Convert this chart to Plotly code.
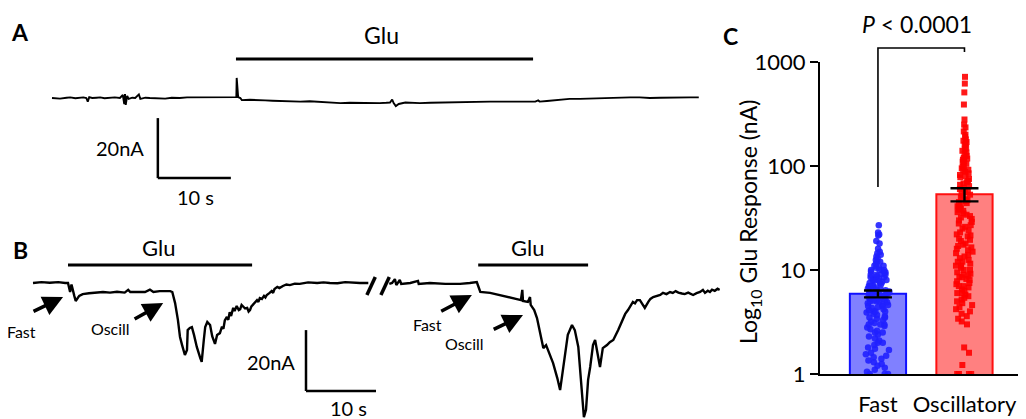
import plotly.graph_objects as go

# ---------------- Panel A : amperometric trace (time s, current nA) ----------------
a_time = [0, 1.1, 2.0, 2.5, 3.2, 3.8, 4.3, 4.7, 4.9, 5.1, 5.5, 6.1, 6.6, 7.2, 7.9, 8.6, 9.3, 9.7, 9.9, 10.0,
          10.1, 10.3, 10.5, 11.0, 11.4, 11.9, 12.1, 12.8, 13.4, 14.3, 15.5, 16.4, 17.5, 18.5, 19.6, 20.6,
          21.6, 22.6, 23.7, 24.5, 25.1, 25.25, 25.3, 25.4, 25.5, 25.8, 26.0, 27.1, 28.2, 29.2, 30.2, 31.2,
          32.6, 34.0, 35.3, 36.7, 38.1, 39.5, 40.8, 42.2, 43.5, 44.9, 45.8, 46.3, 46.6, 46.8, 47.1, 47.5,
          48.4, 49.4, 50.4, 51.8, 53.2, 54.5, 55.9, 57.2, 58.6, 60.0, 61.4, 62.7, 64.1, 65.2, 66.2, 66.6,
          66.8, 67.8, 68.9, 69.9, 70.9, 72.3, 73.7, 75.0, 76.4, 77.8, 79.2, 80.5, 81.9, 83.3, 84.7, 86.0,
          87.4, 88.6]
a_curr = [0.0, -0.2, 0.1, 0.2, -0.1, 0.0, 0.2, 0.0, -1.2, 0.3, 0.0, 0.1, 0.2, -0.1, 0.0, 0.2, 0.0, 1.0, -2.0, 1.3,
          -2.3, 0.7, -0.3, 0.1, 0.0, 1.2, -0.3, 0.1, 0.0, -0.1, -0.2, 0.1, 0.0, 0.2, 0.2, 0.1,
          0.3, 0.1, 0.2, 0.2, 0.3, 0.3, 6.7, 0.3, 0.3, 0.0, -0.7, -0.6, -0.8, -0.8, -0.9, -1.0,
          -1.0, -1.2, -1.1, -1.3, -1.4, -1.7, -1.6, -1.7, -1.8, -1.7, -1.6, -1.5, -0.5, -1.7, -2.7, -2.0,
          -1.5, -1.7, -1.7, -1.6, -1.5, -1.4, -1.3, -1.4, -1.3, -1.2, -1.2, -1.3, -1.2, -1.2, -1.2, -0.8,
          -1.2, -1.0, -0.7, -0.5, -0.3, -0.3, -0.2, 0.0, 0.2, 0.1, 0.2, 0.2, 0.0, 0.1, 0.2, 0.1,
          0.2, 0.2]
glu_A = [25.2, 65.9]

# ---------------- Panel B : trace with break ----------------
b1_time = [0, 1.2, 2.4, 3.6, 4.6, 5.0, 5.3, 5.5, 5.9, 6.1, 6.6, 7.1, 8.0, 8.9, 10.0, 11.0, 12.0, 13.1, 13.6, 13.9,
           15.0, 16.0, 16.7, 17.2, 18.1, 19.0, 19.6, 19.9, 20.3, 20.7, 21.0, 21.3, 21.7, 22.0, 22.1, 22.4,
           22.7, 23.0, 23.4, 23.9, 24.1, 24.4, 24.6, 24.9, 25.3, 25.6, 26.0, 26.3,
           26.7, 27.0, 27.2, 27.4, 27.7, 27.9, 28.1, 28.3, 28.6, 28.8, 29.1, 29.4, 29.6, 29.8, 30.0, 30.3,
           30.6, 30.8, 31.0, 31.2, 31.4, 31.7, 32.0, 32.2, 32.4, 32.7, 33.0, 33.2, 33.4, 33.8, 34.1, 34.3,
           34.5, 34.9, 35.2, 35.7, 36.2, 36.7, 37.4, 38.1, 39.3, 40.6, 41.5, 42.4, 43.5, 44.6, 45.6, 46.7, 47.9]
b1_curr = [0, 0.3, 0.1, 0.3, 0, 0, -3.0, -0.5, -4.3, -6.0, -4.3, -3.7, -3.4, -3.3, -3.0, -3.2, -2.9, -3.2, -2.3, -3.0,
           -2.9, -3.0, -2.2, -3.0, -2.7, -2.6, -2.7, -3.0, -6.7, -12.3, -18.0, -20.7, -24.0, -22.3, -15.7, -15.0,
           -14.7, -17.3, -21.3, -25.0, -26.3, -19.0, -14.7, -13.0, -14.0, -17.7, -20.3, -17.3,
           -16.7, -14.5, -15.3, -12.5, -11.3, -12.3, -9.7, -11.0, -8.3, -9.3, -7.7, -9.0, -8.7, -7.3, -7.7, -8.5,
           -8.3, -9.5, -9.0, -7.8, -7.3, -6.3, -5.7, -6.3, -5.0, -5.3, -4.3, -4.8, -4.0, -3.3, -2.7, -3.3,
           -2.0, -1.3, -1.7, -1.0, -0.5, -0.7, -0.2, -0.3, 0.2, 0.0, 0.2, 0.0, -0.1, 0.3, 0.1, 0.0, 0.0]
b2_time = [50.9, 51.3, 51.7, 51.9, 52.4, 52.6, 53.9, 55.0, 55.1, 56.7, 58.9, 61.0, 62.4, 63.4, 63.6, 63.9, 65.3,
           66.7, 68.1, 69.3, 69.7, 69.9, 70.0, 70.7, 71.0, 71.1, 71.6, 72.0, 72.4, 72.9, 73.3, 73.7, 74.3, 74.9,
           75.3, 75.6, 76.0, 76.4, 77.0, 77.4, 77.9, 78.3, 78.7, 79.0, 79.3, 79.6, 80.0, 80.3, 80.7, 81.0,
           81.4, 82.0, 82.4, 82.9, 83.6,
           84.3, 84.6, 85.0, 85.3, 85.7, 86.0, 86.3, 86.7, 87.1, 87.4, 87.9, 88.2, 88.6, 89.1, 89.6, 90.0,
           90.5, 91.0, 91.4, 91.8, 92.2, 92.7, 93.1, 93.6, 94.3, 94.8, 95.3, 95.7, 96.0, 96.4, 96.7, 97.0,
           97.4, 97.8, 98.1]
b2_curr = [-0.3, 0, 1.3, -0.7, 1.0, -0.3, 0, 0.7, -0.3, 0, -0.3, -0.3, 0, 0.3, -1.0, -3.0, -3.3,
           -4.0, -4.7, -5.3, -5.7, -2.3, -6.0, -6.3, -4.7, -7.3, -9.0, -11.7, -15.7, -21.7, -20.7, -23.0, -26.7, -31.7,
           -35.7, -30.7, -23.3, -17.3, -14.0, -15.7, -21.3, -32.3, -44.7, -42.3, -32.3, -28.0, -20.7, -19.0, -24.0, -28.0,
           -21.7, -20.7, -19.7, -19.0, -15.7,
           -12.3, -10.3, -9.0, -8.0, -6.3, -6.8, -5.7, -5.7, -7.3, -8.3, -6.3, -5.3, -4.7, -4.3, -4.0, -3.3,
           -3.7, -3.0, -3.3, -2.7, -3.2, -3.5, -3.7, -3.2, -4.0, -3.4, -3.0, -2.3, -3.3, -2.6, -3.0, -2.2,
           -2.6, -1.9, -2.3]
glu_B1 = [5.0, 31.3]
glu_B2 = [63.6, 79.3]
assert len(b1_time) == len(b1_curr) and len(b2_time) == len(b2_curr) and len(a_time) == len(a_curr)

# ---------------- Panel C : Glu responses ----------------
categories = ["Fast", "Oscillatory"]
means = [5.9, 53.4]
sems = [0.45, 7.7]
fast_vals = [27, 23, 22, 21.5, 19, 18, 16, 15, 14.5, 14, 13.5, 13, 12.5, 12, 12, 11.5, 11, 11, 10.5, 10.5,
             10, 10, 10, 9.7, 9.5, 9.5, 9.2, 9, 9, 9, 8.7, 8.5, 8.5, 8.3, 8.2, 8, 8, 8, 7.8, 7.7,
             7.5, 7.5, 7.3, 7.2, 7, 7, 7, 6.9, 6.8, 6.6, 6.5, 6.5, 6.4, 6.3, 6.2, 6.1, 6, 6, 6, 5.9,
             5.8, 5.7, 5.6, 5.5, 5.5, 5.4, 5.3, 5.2, 5.1, 5, 5, 5, 4.9, 4.8, 4.7, 4.6, 4.5, 4.5, 4.4, 4.3,
             4.2, 4.1, 4, 4, 4, 3.9, 3.8, 3.7, 3.6, 3.5, 3.5, 3.4, 3.3, 3.2, 3.1, 3, 3, 3, 2.9, 2.8,
             2.7, 2.6, 2.5, 2.5, 2.4, 2.3, 2.2, 2.1, 2, 2, 1.9, 1.8, 1.75, 1.7, 1.6, 1.55, 1.5, 1.45, 1.4, 1.35,
             1.3, 1.25, 1.2, 1.15, 1.1, 1.05, 1.0, 1.0, 1.0]
osc_vals = [720, 620, 510, 390, 280, 250, 235, 215, 200, 190, 180, 175, 170, 165, 160, 150, 145, 140, 135, 130,
            125, 120, 118, 115, 112, 110, 105, 100, 98, 95, 92, 90, 88, 85, 82, 80, 78, 75, 72, 70,
            68, 66, 64, 62, 60, 58, 56, 55, 53, 52, 50, 48, 47, 46, 45, 44, 42, 41, 40, 39,
            38, 37, 36, 35, 34, 33, 32, 31, 30, 29, 28, 27, 26, 25, 24, 23, 22, 21.5, 21, 20,
            19.5, 19, 18, 17.5, 17, 16.5, 16, 15.5, 15, 14.5, 14, 13.5, 13, 12.5, 12, 12, 11.5, 11, 11, 10.5,
            10, 10, 9.5, 9.2, 9, 8.8, 8.6, 8.5, 8.2, 8, 7.8, 7.5, 7.3, 7, 7, 6.8, 6.5, 6.3, 6, 6,
            5.8, 5.6, 5.4, 5.2, 5, 4.8, 4.6, 4.4, 4.2, 4, 3.8, 3.6, 3.4, 3.2, 3, 1.8, 1.6, 1.22, 1.0, 1.0,
            1.0, 1.0]

FONT = "Lato"
# The page body has an 8 px margin, so the figure covers window pixels 8..1026 x 8..419.
OFF = 8
W, H = 1026 - OFF, 419 - OFF

fig = go.Figure()

# ---- Panel A
fig.add_trace(go.Scatter(x=a_time, y=a_curr, mode="lines", line=dict(color="black", width=1.9),
                         xaxis="x", yaxis="y", hoverinfo="skip"))
# ---- Panel B
fig.add_trace(go.Scatter(x=b1_time, y=b1_curr, mode="lines", line=dict(color="black", width=2.4),
                         xaxis="x2", yaxis="y2", hoverinfo="skip"))
fig.add_trace(go.Scatter(x=b2_time, y=b2_curr, mode="lines", line=dict(color="black", width=2.4),
                         xaxis="x2", yaxis="y2", hoverinfo="skip"))

# ---- Panel C bars
fig.add_trace(go.Bar(x=categories, y=means, width=0.65,
                     marker=dict(color=["#8080ff", "#ff8080"],
                                 line=dict(color=["#1010ff", "#ff1010"], width=2)),
                     xaxis="x3", yaxis="y3", hoverinfo="skip"))
# points
fig.add_trace(go.Box(x=[categories[0]] * len(fast_vals), y=fast_vals, boxpoints="all", jitter=1.0,
                     pointpos=0, width=0.3, fillcolor="rgba(0,0,0,0)",
                     line=dict(width=0, color="rgba(0,0,0,0)"),
                     marker=dict(color="#2020ff", size=6.5, opacity=0.9, symbol="circle"),
                     xaxis="x3", yaxis="y3", hoverinfo="skip"))
fig.add_trace(go.Box(x=[categories[1]] * len(osc_vals), y=osc_vals, boxpoints="all", jitter=1.0,
                     pointpos=0, width=0.2, fillcolor="rgba(0,0,0,0)",
                     line=dict(width=0, color="rgba(0,0,0,0)"),
                     marker=dict(color="#ff0000", size=6, opacity=0.9, symbol="square"),
                     xaxis="x3", yaxis="y3", hoverinfo="skip"))
# error bars on top
fig.add_trace(go.Scatter(x=categories, y=means, mode="markers",
                         marker=dict(size=1, color="rgba(0,0,0,0)"),
                         error_y=dict(type="data", array=sems, color="black", thickness=2.4, width=14),
                         xaxis="x3", yaxis="y3", hoverinfo="skip"))

# ---- Axis geometry (window-pixel based)
def px(xp):
    return (xp - OFF) / W

def py(yp):
    return 1 - (yp - OFF) / H

fig.update_layout(
    # Panel A: 7.3 px per s, 3 px per nA, trace origin at window pixel (52, 98)
    xaxis=dict(domain=[0, px(720)], range=[(OFF - 52) / 7.3, (720 - 52) / 7.3], visible=False,
               automargin=False),
    yaxis=dict(domain=[py(210), 1], range=[-(210 - 98) / 3, (98 - OFF) / 3], visible=False, automargin=False),
    # Panel B: 7 px per s, 3 px per nA, origin (33, 283)
    xaxis2=dict(domain=[0, px(720)], range=[(OFF - 33) / 7, (720 - 33) / 7], visible=False, anchor="y2",
                automargin=False),
    yaxis2=dict(domain=[0, py(210)], range=[-(419 - 283) / 3, (283 - 210) / 3], visible=False, anchor="x2",
                automargin=False),
    # Panel C
    xaxis3=dict(domain=[px(820), px(1022)], range=[-0.67, 1.665], type="category", anchor="y3",
                showline=True, linecolor="black", linewidth=2, ticks="", showgrid=False, automargin=False,
                tickfont=dict(family=FONT, size=22, color="black"), ticklabelstandoff=10),
    yaxis3=dict(domain=[py(374), py(62)], type="log", range=[0, 3], anchor="x3", automargin=False,
                showline=True, linecolor="black", linewidth=2, ticks="outside", ticklen=8, tickwidth=2,
                tickcolor="black", showgrid=False, zeroline=False,
                tickvals=[1, 10, 100, 1000], ticktext=["1", "10", "100", "1000"],
                tickfont=dict(family=FONT, size=22, color="black")),
)

shapes = []
ann = []

def hline(xr, yr, x0, x1, y, w):
    shapes.append(dict(type="line", xref=xr, yref=yr, x0=x0, x1=x1, y0=y, y1=y,
                       line=dict(color="black", width=w)))

def vline(xr, yr, x, y0, y1, w):
    shapes.append(dict(type="line", xref=xr, yref=yr, x0=x, x1=x, y0=y0, y1=y1,
                       line=dict(color="black", width=w)))

def text(xr, yr, x, y, t, size, **kw):
    d = dict(xref=xr, yref=yr, x=x, y=y, text=t, showarrow=False, xanchor="center", yanchor="middle",
             font=dict(family=FONT, size=size, color="black"))
    d.update(kw)
    ann.append(d)

# Panel A decorations
hline("x", "y", glu_A[0], glu_A[1], 13, 3)
text("x", "y", 45.2, 21, "Glu", 23)
vline("x", "y", 14.5, -6.7, -26.7, 2.5)
hline("x", "y", 14.5, 24.5, -26.7, 2.5)
text("x", "y", 12.9, -16.7, "20nA", 20, xanchor="right")
text("x", "y", 19.6, -33.0, "10 s", 20)

# Panel B decorations
hline("x2", "y2", glu_B1[0], glu_B1[1], 6, 3)
hline("x2", "y2", glu_B2[0], glu_B2[1], 6, 3)
text("x2", "y2", 17.9, 11.7, "Glu", 22)
text("x2", "y2", 70.7, 11.7, "Glu", 22)
vline("x2", "y2", 39.0, -15.7, -36.0, 2.5)
hline("x2", "y2", 39.0, 49.0, -36.0, 2.5)
text("x2", "y2", 37.7, -26.3, "20nA", 20, xanchor="right")
text("x2", "y2", 45.0, -41.6, "10 s", 20)
# break marks
for x0 in (47.7, 49.7):
    shapes.append(dict(type="line", xref="x2", yref="y2", x0=x0, x1=x0 + 1.2, y0=-4, y1=2,
                       line=dict(color="black", width=3.5)))

def arrow(xh, yh, xt, yt):
    ann.append(dict(xref="x2", yref="y2", axref="x2", ayref="y2", x=xh, y=yh, ax=xt, ay=yt,
                    text="", showarrow=True, arrowhead=2, arrowsize=1.15, arrowwidth=3.5,
                    arrowcolor="black", standoff=0, startstandoff=0))

arrow(4.3, -4.7, -0.14, -9.7)
text("x2", "y2", -1.6, -16.3, "Fast", 16)
arrow(18.6, -6.7, 14.3, -12.3)
text("x2", "y2", 11.0, -15.3, "Oscill", 16)
arrow(62.7, -4.0, 58.1, -9.7)
text("x2", "y2", 56.3, -13.7, "Fast", 16)
arrow(70.0, -10.7, 65.6, -15.7)
text("x2", "y2", 61.7, -20.0, "Oscill", 16)

# Panel labels
text("paper", "paper", px(20), py(32), "<b>A</b>", 23)
text("paper", "paper", px(20), py(250), "<b>B</b>", 23)
text("paper", "paper", px(730), py(36), "<b>C</b>", 23)

# Panel C title and significance bracket
text("paper", "paper", px(749), py(222), "Log<sub>10</sub> Glu Response (nA)", 23, textangle=-90)
text("paper", "paper", px(917), py(24), "<i>P</i> < 0.0001", 23)
shapes.append(dict(type="path", xref="x3", yref="paper",
                   path=f"M 0,{py(187)} L 0,{py(48)} L 1,{py(48)} L 1,{py(52)}",
                   line=dict(color="black", width=1.6)))

fig.update_layout(
    width=W, height=H, margin=dict(l=0, r=0, t=0, b=0, pad=0), autosize=False,
    paper_bgcolor="white", plot_bgcolor="white", showlegend=False,
    shapes=shapes, annotations=ann, boxmode="overlay",
    font=dict(family=FONT, color="black"),
)

fig.write_html("out.html")
